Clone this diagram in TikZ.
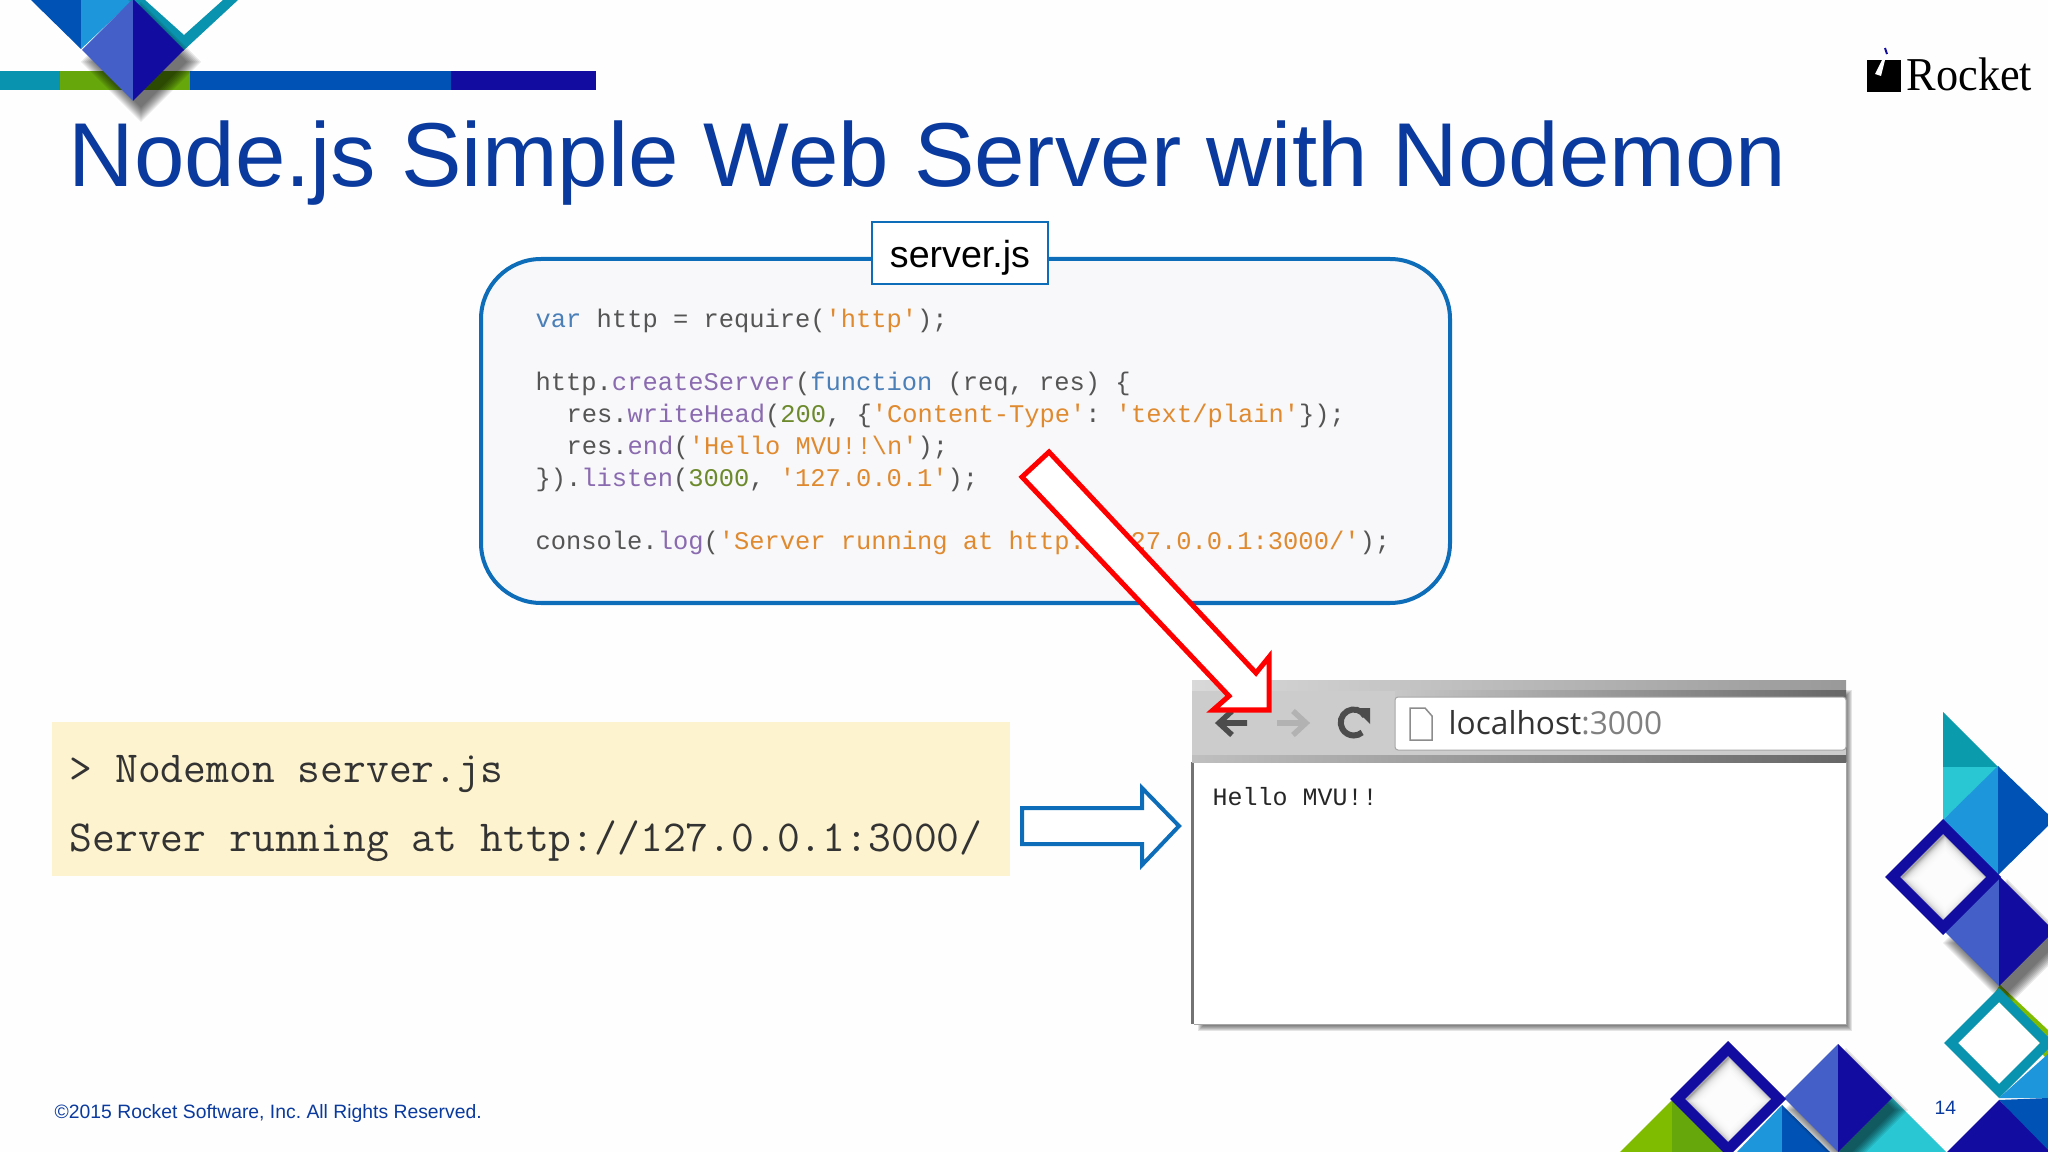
\documentclass[tikz,border=0pt]{standalone}
\usepackage{fontspec}
\setmainfont{Liberation Sans}
\newfontfamily\listingfont{Liberation Mono}
\newfontfamily\chromefont{Open Sans}
\newfontfamily\logofont{Liberation Serif}
\usetikzlibrary{calc}
\frenchspacing
\definecolor{titleblue}{HTML}{0A3A9E}
\definecolor{ruleblue}{HTML}{0E6DB8}
\definecolor{slidebg}{HTML}{FEFEFE}
\definecolor{boxbg}{HTML}{F8F8FA}
\definecolor{termbg}{HTML}{FDF3CF}
\definecolor{decoteal}{HTML}{0A9CAD}
\definecolor{decotealb}{HTML}{0A93AE}
\definecolor{decocyan}{HTML}{29C7D3}
\definecolor{decosky}{HTML}{1E96DC}
\definecolor{decoblue}{HTML}{0052B4}
\definecolor{deconavy}{HTML}{120CA0}
\definecolor{decoindigo}{HTML}{4460C8}
\definecolor{decogreen}{HTML}{7FBC00}
\definecolor{decogreenb}{HTML}{66A70C}
\definecolor{codegrey}{HTML}{555555}
\definecolor{codekey}{HTML}{4A7FB8}
\definecolor{codefun}{HTML}{8A6BB0}
\definecolor{codestr}{HTML}{E08A30}
\definecolor{codenum}{HTML}{6C8A2C}
\def\kwd#1{\textcolor{codekey}{#1}}
\def\fnc#1{\textcolor{codefun}{#1}}
\def\str#1{\textcolor{codestr}{#1}}
\def\num#1{\textcolor{codenum}{#1}}
% diamond with two halves, left colour and right colour
\def\twotone(#1,#2,#3)(#4,#5){
	\fill[#4] (#1,#2-#3) -- (#1-#3,#2) -- (#1,#2+#3) -- cycle;
	\fill[#5] (#1,#2-#3) -- (#1+#3,#2) -- (#1,#2+#3) -- cycle;
}
\def\softshadow(#1,#2,#3){
	\foreach \grow in {0,2,...,14}
		\fill[black,opacity=0.09] (#1+8,#2+12-#3-\grow) -- (#1+8-#3-\grow,#2+12) -- (#1+8,#2+12+#3+\grow) -- (#1+8+#3+\grow,#2+12) -- cycle;
}
\def\ring(#1,#2,#3,#4)(#5){
	\fill[#5,even odd rule] (#1,#2-#3) -- (#1-#3,#2) -- (#1,#2+#3) -- (#1+#3,#2) -- cycle
		(#1,#2-#4) -- (#1-#4,#2) -- (#1,#2+#4) -- (#1+#4,#2) -- cycle;
}
\def\ringhole(#1,#2,#3){
	\begin{scope}
		\clip (#1,#2-#3) -- (#1-#3,#2) -- (#1,#2+#3) -- (#1+#3,#2) -- cycle;
		\fill[black!35] (#1-#3,#2-#3) rectangle (#1+#3,#2+#3);
		\foreach \grow in {0,2,...,16}
			\fill[white,opacity=0.35] (#1+2,#2+2-#3+\grow) -- (#1+2-#3+\grow,#2+2) -- (#1+2,#2+2+#3-\grow) -- (#1+2+#3-\grow,#2+2) -- cycle;
	\end{scope}
}
\tikzset{
	titletext/.style={anchor=base west,inner sep=0pt,text=titleblue,font=\fontsize{25.8}{30}\selectfont},
	codeline/.style={anchor=base west,inner sep=0pt,text=codegrey,font=\listingfont\fontsize{7.23}{9}\selectfont},
	termline/.style={anchor=base west,inner sep=0pt,text=black!80,font=\ttfamily\fontsize{12.6}{15}\selectfont},
	footertext/.style={anchor=base west,inner sep=0pt,text=titleblue,font=\fontsize{5.5}{7}\selectfont},
	blockarrow/.style={fill=white,line width=0.5mm,miter limit=10},
}
\begin{document}
\begin{tikzpicture}[x=0.01cm,y=-0.01cm]
	\useasboundingbox (0,0) rectangle (2048,1152);
	\clip (0,0) rectangle (2048,1152);
	\fill[slidebg] (0,0) rectangle (2048,1152);

	%%%%% top left bar %%%%%
	\fill[decotealb] (0,71) rectangle (60,90);
	\fill[decogreenb] (60,71) rectangle (190,90);
	\fill[decoblue] (190,71) rectangle (451,90);
	\fill[deconavy] (451,71) rectangle (596,90);
	\fill[decoblue] (31,0) -- (81,0) -- (81,49) -- cycle;
	\fill[decosky] (81,0) -- (133,0) -- (81,49) -- cycle;
	\fill[decotealb] (145,0) -- (184,35) -- (223,0) -- (238,0) -- (183,51) -- (128,0) -- cycle;
	\softshadow(133,50,46)
	\twotone(133,50,51)(decoindigo,deconavy)

	%%%%% logo %%%%%
	\fill[black] (1867,60) rectangle (1901,92);
	\fill[white] (1882,60) -- (1875,74) -- (1881,76) -- (1885,60) -- cycle;
	\draw[deconavy,line width=0.2mm] (1885,48) -- (1887,54);
	\node[anchor=base west,inner sep=0pt,font=\logofont\fontsize{13.4}{15}\selectfont,xscale=0.94] (logoname) at (1906,91) {Rocket};

	\node[titletext] (slidetitle) at (68,187) {Node.js Simple Web Server with Nodemon};

	%%%%% code box %%%%%
	\draw[fill=boxbg,draw=ruleblue,line width=0.4mm,rounded corners=0.6cm] (481,259) rectangle (1450,603);
	\draw[fill=white,draw=ruleblue,line width=0.2mm] (872,222) rectangle (1048,284);
	\node[inner sep=0pt,font=\fontsize{10.7}{13}\selectfont] (filename) at (960,258) {server.js};
	\node[codeline] (line1) at (535,328) {\kwd{var} http = require(\str{'http'});};
	\node[codeline] (line2) at (535,391) {http.\fnc{createServer}(\kwd{function} (req, res) \{};
	\node[codeline] (line3) at (566,423) {res.\fnc{writeHead}(\num{200}, \{\str{'Content-Type'}: \str{'text/plain'}\});};
	\node[codeline] (line4) at (566,455) {res.\fnc{end}(\str{'Hello MVU!!\textbackslash n'});};
	\node[codeline] (line5) at (535,487) {\}).\fnc{listen}(\num{3000}, \str{'127.0.0.1'});};
	\node[codeline] (line6) at (535,550) {console.\fnc{log}(\str{'Server running at http://127.0.0.1:3000/'});};

	%%%%% terminal %%%%%
	\fill[termbg] (52,722) rectangle (1010,876);
	\node[termline] (termcmd) at (69,782) {> Nodemon server.js};
	\node[termline] (termout) at (69,851) {Server running at http://127.0.0.1:3000/};

	\draw[blockarrow,draw=ruleblue,line width=0.4mm] (1022,808) -- (1142,808) -- (1142,788) -- (1179,826) -- (1142,865) -- (1142,844) -- (1022,844) -- cycle;

	%%%%% browser %%%%%
	\foreach \grow in {0,1,...,5}
		\fill[black,opacity=0.1] (1198+\grow,690+\grow) rectangle (1852-\grow,1031-\grow);
	\fill[white] (1192,762) rectangle (1846,1024);
	\draw[black!55,line width=0.3mm] (1192,762) -- (1192,1024);
	\draw[black!35,line width=0.1mm] (1846,762) -- (1846,1024) -- (1194,1024);
	\fill[black!20] (1192,682) rectangle (1846,762);
	\shade[left color=black!15,right color=black!40] (1192,680) rectangle (1846,690);
	\shade[left color=black!22,right color=black!60] (1395,690) rectangle (1846,697);
	\shade[left color=black!25,right color=black!60] (1192,755) rectangle (1846,762);
	\draw[fill=white,draw=black!35,line width=0.1mm,rounded corners=0.03cm] (1395,697) -- (1846,697) -- (1846,750) -- (1395,750) -- cycle;
	\draw[black!70,line width=0.55mm] (1247,723) -- (1220,723) (1232,711) -- (1219,723) -- (1232,735);
	\draw[black!30,line width=0.55mm] (1277,723) -- (1305,723) (1293,711) -- (1306,723) -- (1293,735);
	\draw[black!70,line width=0.6mm] (1365,716) arc (-30:-310:13);
	\fill[black!70] (1354,708) -- (1370,708) -- (1370,724) -- cycle;
	\draw[fill=white,draw=black!45,line width=0.15mm] (1410,708) -- (1425,708) -- (1432,716) -- (1432,740) -- (1410,740) -- cycle;
	\node[anchor=base west,inner sep=0pt,text=black!80,font=\chromefont\fontsize{9.0}{11}\selectfont] (urlbar) at (1448,735) {localhost\textcolor{black!50}{:3000}};
	\node[anchor=base west,inner sep=0pt,text=black!85,font=\listingfont\fontsize{7.1}{9}\selectfont] (pagetext) at (1212,805) {Hello MVU!!};

	\draw[blockarrow,draw=red] (1049,452) -- (1022,477) -- (1229,696) -- (1213,710) -- (1269,710) -- (1269,657) -- (1256,673) -- cycle;

	%%%%% right deco %%%%%
	\fill[decoteal] (1943,712) -- (1998,767) -- (1943,767) -- cycle;
	\fill[decocyan] (1943,767) -- (1998,767) -- (1943,820) -- cycle;
	\fill[decosky] (1998,766) -- (1943,820) -- (1998,875) -- cycle;
	\fill[decoblue] (1998,766) -- (2054,820) -- (1998,875) -- cycle;
	\fill[decogreen] (2000,985) -- (2048,1030) -- (2048,1060) -- (1990,1000) -- cycle;
	\softshadow(1999,931,50)
	\twotone(1999,931,55)(decoindigo,deconavy)
	\ringhole(1943,877,43)
	\ring(1943,877,58,43)(deconavy)
	\fill[decosky] (1999,1098) -- (2048,1054) -- (2048,1098) -- cycle;
	\fill[white] (1999,1002) -- (1958,1043) -- (1999,1084) -- (2040,1043) -- cycle;
	\ring(1999,1043,55,41)(decotealb)
	\fill[decoblue] (1999,1100) -- (2048,1098) -- (2048,1152) -- cycle;
	\fill[deconavy] (1999,1100) -- (1947,1152) -- (2048,1152) -- (2048,1150) -- cycle;

	%%%%% bottom deco %%%%%
	\fill[decogreen] (1620,1152) -- (1672,1100) -- (1672,1152) -- cycle;
	\fill[decogreenb] (1672,1100) -- (1724,1152) -- (1672,1152) -- cycle;
	\fill[decosky] (1737,1152) -- (1782,1105) -- (1782,1152) -- cycle;
	\fill[decoblue] (1782,1105) -- (1830,1152) -- (1782,1152) -- cycle;
	\fill[decocyan] (1892,1098) -- (1946,1152) -- (1838,1152) -- cycle;
	\softshadow(1838,1098,48)
	\twotone(1838,1098,54)(decoindigo,deconavy)
	\ringhole(1728,1099,43)
	\ring(1728,1099,58,43)(deconavy)

	\node[footertext] (copyright) at (54,1118) {©2015 Rocket Software, Inc. All Rights Reserved.};
	\node[footertext] (pagenum) at (1934,1114) {14};
\end{tikzpicture}
\end{document}
